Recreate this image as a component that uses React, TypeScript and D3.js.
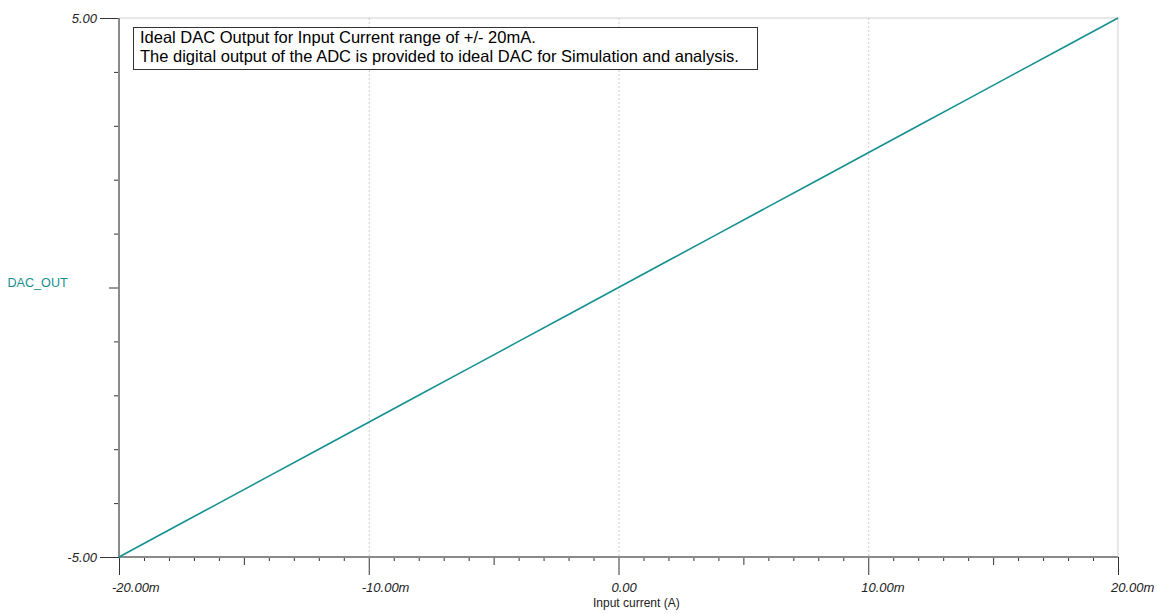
import { useEffect, useRef } from 'react';
import * as d3 from 'd3';

// input current in mA, DAC output in V
const currentMa = [-20, -18, -16, -14, -12, -10, -8, -6, -4, -2, 0, 2, 4, 6, 8, 10, 12, 14, 16, 18, 20];
const dacOut = [-5.0, -4.5, -4.0, -3.5, -3.0, -2.5, -2.0, -1.5, -1.0, -0.5, 0.0, 0.5, 1.0, 1.5, 2.0, 2.5, 3.0, 3.5, 4.0, 4.5, 5.0];
const xLabelTicks = [-20, -10, 0, 10, 20];
const yLabelTicks = [-5, 5];
const gridTicks = [-10, 0, 10];
const noteLines = [
  'Ideal DAC Output for Input Current range of +/- 20mA.',
  'The digital output of the ADC is provided to ideal DAC for Simulation and analysis.',
];

export default function App() {
  const ref = useRef<SVGSVGElement>(null);

  useEffect(() => {
    const svg = d3.select(ref.current);
    svg.selectAll('*').remove();
    const margin = { top: 18, left: 119, right: 1118, bottom: 557 };
    const font = 'Arial, "Liberation Sans", sans-serif';
    const teal = '#159090';

    const x = d3.scaleLinear().domain([-20, 20]).range([margin.left, margin.right]);
    const y = d3.scaleLinear().domain([-5, 5]).range([margin.bottom, margin.top]);

    // frame: light top and right
    svg.append('line').attr('x1', margin.left).attr('x2', margin.right).attr('y1', margin.top).attr('y2', margin.top)
      .attr('stroke', '#cfcfcf');
    svg.append('line').attr('x1', margin.right).attr('x2', margin.right).attr('y1', margin.top).attr('y2', margin.bottom)
      .attr('stroke', '#cfcfcf');

    // dotted grid
    svg.selectAll('.grid').data(gridTicks).enter().append('line')
      .attr('x1', d => x(d) + 0.5).attr('x2', d => x(d) + 0.5)
      .attr('y1', margin.top).attr('y2', margin.bottom)
      .attr('stroke', '#cccccc').attr('stroke-dasharray', '2,2');

    // x ticks
    const xt = d3.range(-20, 21, 1);
    svg.selectAll('.xt').data(xt).enter().append('line')
      .attr('x1', d => x(d) + 0.5).attr('x2', d => x(d) + 0.5)
      .attr('y1', margin.bottom)
      .attr('y2', d => margin.bottom + (d % 10 === 0 ? 18 : d % 5 === 0 ? 8 : 4))
      .attr('stroke', '#333');

    // y ticks
    const yt = d3.range(-5, 6, 1);
    svg.selectAll('.yt').data(yt).enter().append('line')
      .attr('y1', d => y(d) + 0.5).attr('y2', d => y(d) + 0.5)
      .attr('x1', margin.left)
      .attr('x2', d => margin.left - (Math.abs(d) === 5 ? 19 : d === 0 ? 10 : 5))
      .attr('stroke', '#333');

    // axis lines
    svg.append('line').attr('x1', margin.left).attr('x2', margin.left).attr('y1', margin.top).attr('y2', margin.bottom)
      .attr('stroke', '#8a8a8a').attr('stroke-width', 2);
    svg.append('line').attr('x1', margin.left).attr('x2', margin.right).attr('y1', margin.bottom).attr('y2', margin.bottom)
      .attr('stroke', '#8a8a8a').attr('stroke-width', 2);

    // tick labels (left-anchored a little before the tick, as in the source)
    svg.selectAll('.xl').data(xLabelTicks).enter().append('text')
      .attr('x', d => x(d) - 7).attr('y', 591.5)
      .attr('font-family', font).attr('font-size', 13)
      .attr('font-style', 'italic').attr('fill', '#222')
      .text(d => d === 0 ? '0.00' : `${d.toFixed(2)}m`);
    svg.selectAll('.yl').data(yLabelTicks).enter().append('text')
      .attr('x', 97).attr('y', d => y(d) + 5)
      .attr('text-anchor', 'end').attr('font-family', font).attr('font-size', 13)
      .attr('font-style', 'italic').attr('fill', '#222')
      .text(d => d.toFixed(2));

    svg.append('text').attr('x', 593).attr('y', 606.5)
      .attr('font-family', font).attr('font-size', 12).attr('fill', '#222')
      .text('Input current (A)');
    svg.append('text').attr('x', 7.5).attr('y', 286.5)
      .attr('font-family', font).attr('font-size', 12.6).attr('fill', teal)
      .text('DAC_OUT');

    // trace
    const pts = currentMa.map((c, i) => [c, dacOut[i]] as [number, number]);
    const line = d3.line<[number, number]>().x(d => x(d[0])).y(d => y(d[1]));
    svg.append('path').datum(pts).attr('d', line).attr('fill', 'none')
      .attr('stroke', teal).attr('stroke-width', 1.6);

    // note box
    svg.append('rect').attr('x', 133.5).attr('y', 27.5).attr('width', 624).attr('height', 42)
      .attr('fill', '#fff').attr('stroke', '#333');
    svg.selectAll('.note').data(noteLines).enter().append('text')
      .attr('x', 140).attr('y', (d, i) => 43 + i * 19.3)
      .attr('font-family', font).attr('font-size', 16.5).attr('fill', '#000')
      .text(d => d);
  }, []);

  return (
    <svg ref={ref} width={1157} height={614}
      style={{ position: 'absolute', left: 0, top: 0, background: '#fff' }} />
  );
}
